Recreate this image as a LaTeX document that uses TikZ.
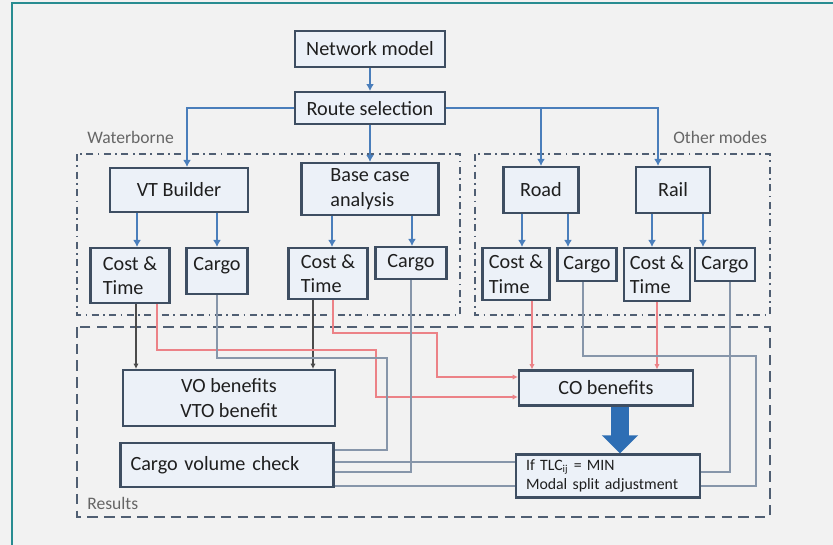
\documentclass[tikz,border=0pt]{standalone}
\usepackage{fontspec}
\setmainfont{Carlito}
\usepackage{tikz}
\usetikzlibrary{arrows.meta, positioning, calc}
\definecolor{boxLine}{RGB}{62, 78, 98}
\definecolor{boxFill}{RGB}{236, 241, 248}
\definecolor{linkBlue}{RGB}{74, 126, 187}
\definecolor{bigBlue}{RGB}{46, 110, 180}
\definecolor{linkRed}{RGB}{236, 130, 135}
\definecolor{linkGray}{RGB}{135, 150, 170}
\definecolor{linkDark}{RGB}{75, 75, 75}
\definecolor{frameTeal}{RGB}{40, 140, 145}
\definecolor{areaLine}{RGB}{80, 95, 115}
\definecolor{pageGray}{RGB}{242, 242, 242}

\begin{document}
\begin{tikzpicture}[x=0.02cm, y=-0.02cm,
    mbox/.style={rectangle, draw=boxLine, fill=boxFill, line width=1.2pt, inner sep=0pt, align=center, font=\fontsize{11.5}{14}\selectfont, text=black!88},
    lbl/.style={font=\fontsize{10}{12}\selectfont, text=black!60, anchor=west, inner sep=0pt},
    blink/.style={-{Latex[length=4pt,width=4.5pt]}, draw=linkBlue, line width=1.1pt},
    dlink/.style={-{Latex[length=3pt,width=3pt]}, draw=linkDark, line width=0.6pt},
    rlink/.style={-{Latex[length=3pt,width=3pt]}, draw=linkRed, line width=0.6pt},
    glink/.style={draw=linkGray, line width=0.6pt},
    bigarrow/.style={-{Triangle[width=0.7cm,length=0.36cm]}, draw=bigBlue, line width=0.36cm},
    area/.style={draw=areaLine, line width=1.1pt, dash pattern=on 4pt off 2.5pt on 1pt off 2.5pt},
    resarea/.style={draw=areaLine, line width=1.1pt, dash pattern=on 6pt off 3.5pt}
]
\useasboundingbox (0,0) rectangle (833,545);
\fill[pageGray] (0,0) rectangle (833,545);
\draw[frameTeal, line width=1.5pt] (833,3) -- (12,3) -- (12,545);

% --- Areas ---
\draw[area] (77,154) rectangle (460,315);
\draw[area] (475,154) rectangle (770,315);
\draw[resarea] (77,327) rectangle (770,517);
\node[lbl] (wblbl) at (87,137) {Waterborne};
\node[lbl] (othlbl) at (673,137) {Other modes};
\node[lbl] (reslbl) at (87,503) {Results};

% --- Network and route ---
\node[mbox, minimum width=3cm, minimum height=0.72cm] (net) at (370,49) {Network model};
\node[mbox, minimum width=3cm, minimum height=0.64cm, below=0.46cm of net] (route) {Route selection};

% --- Modes ---
\node[mbox, minimum width=2.76cm, minimum height=0.88cm] (vt) at (179,190) {VT Builder};
\node[mbox, minimum width=2.74cm, minimum height=1.04cm, align=left] (base) at (370,189) {Base case\\analysis};
\node[mbox, minimum width=1.5cm, minimum height=0.92cm] (road) at (541,190) {Road};
\node[mbox, minimum width=1.48cm, minimum height=0.92cm] (rail) at (673,190) {Rail};

\node[mbox, anchor=north, minimum width=1.58cm, minimum height=1.1cm, align=left] (vtcost) at (130,247) {Cost \&\\Time};
\node[mbox, anchor=north, minimum width=1.22cm, minimum height=0.92cm, text depth=0.3cm] (vtcargo) at (217,247) {Cargo};
\node[mbox, anchor=north, minimum width=1.58cm, minimum height=1.02cm, align=left] (bccost) at (328,247) {Cost \&\\Time};
\node[mbox, anchor=north, minimum width=1.42cm, minimum height=0.64cm] (bccargo) at (411,246) {Cargo};
\node[mbox, anchor=north, minimum width=1.34cm, minimum height=1.04cm, align=left] (rdcost) at (516,247) {Cost \&\\Time};
\node[mbox, anchor=north, minimum width=1.18cm, minimum height=0.66cm] (rdcargo) at (587,247) {Cargo};
\node[mbox, anchor=north, minimum width=1.32cm, minimum height=1.06cm, align=left] (rlcost) at (657,247) {Cost \&\\Time};
\node[mbox, anchor=north, minimum width=1.2cm, minimum height=0.66cm] (rlcargo) at (725,247) {Cargo};

% --- Results ---
\node[mbox, minimum width=4.24cm, minimum height=1.12cm] (vo) at (229,398) {VO benefits\\VTO benefit};
\node[mbox, minimum width=4.26cm, minimum height=0.88cm, text width=3.86cm, align=left] (cvc) at (227,465) {Cargo volume check};
\node[mbox, minimum width=3.48cm, minimum height=0.7cm] (co) at (606,388) {CO benefits};
\node[mbox, minimum width=3.68cm, minimum height=0.86cm, text width=3.28cm, align=left, font=\fontsize{9}{10.5}\selectfont] (ifb) at (608,476) {If TLC\textsubscript{ij} = MIN\\Modal split adjustment};

% --- Route links ---
\draw[blink] (net) -- (route);
\draw[blink] (route.west) -| ([xshift=0.16cm]vt.north);
\draw[blink] (route) -- (base);
\draw[blink] (route.east) -| ([xshift=-0.3cm]rail.north);
\draw[blink] (route.east -| road.north) -- (road.north);

\draw[blink] ([xshift=-0.84cm]vt.south) -- ([xshift=-0.84cm]vt.south |- vtcost.north);
\draw[blink] ([xshift=0.76cm]vt.south) -- ([xshift=0.76cm]vt.south |- vtcargo.north);
\draw[blink] ([xshift=-0.76cm]base.south) -- ([xshift=-0.76cm]base.south |- bccost.north);
\draw[blink] ([xshift=0.84cm]base.south) -- ([xshift=0.84cm]base.south |- bccargo.north);
\draw[blink] ([xshift=-0.38cm]road.south) -- ([xshift=-0.38cm]road.south |- rdcost.north);
\draw[blink] ([xshift=0.54cm]road.south) -- ([xshift=0.54cm]road.south |- rdcargo.north);
\draw[blink] ([xshift=-0.42cm]rail.south) -- ([xshift=-0.42cm]rail.south |- rlcost.north);
\draw[blink] ([xshift=0.6cm]rail.south) -- ([xshift=0.6cm]rail.south |- rlcargo.north);

% --- Result links ---
\draw[dlink] ([xshift=0.12cm]vtcost.south) -- ([xshift=0.12cm]vtcost.south |- vo.north);
\draw[dlink] ([xshift=-0.3cm]bccost.south) -- ([xshift=-0.3cm]bccost.south |- vo.north);
\draw[rlink] ([xshift=0.54cm]vtcost.south) |- (376,350) |- ([yshift=-0.18cm]co.west);
\draw[rlink] ([xshift=0.1cm]bccost.south) |- (437,333) |- ([yshift=0.22cm]co.west);
\draw[rlink] ([xshift=0.32cm]rdcost.south) -- ([xshift=0.32cm]rdcost.south |- co.north);
\draw[rlink] (rlcost.south) -- (rlcost.south |- co.north);
\draw[glink] (vtcargo.south) |- (387,358) |- ([yshift=0.3cm]cvc.east);
\draw[glink] (bccargo.south) |- ([yshift=-0.14cm]cvc.east);
\draw[glink] ([xshift=-0.08cm]rdcargo.south) |- (756,356) |- ([yshift=-0.2cm]ifb.east);
\draw[glink] ([xshift=0.1cm]rlcargo.south) |- ([yshift=0.08cm]ifb.east);
\draw[glink] ([yshift=0.28cm]ifb.west) -- ([yshift=0.28cm]ifb.west -| cvc.east);
\draw[glink] ([yshift=-0.2cm]ifb.west) -- ([yshift=-0.2cm]ifb.west -| cvc.east);
\draw[bigarrow] ([xshift=0.28cm]co.south) -- ([xshift=0.28cm]co.south |- ifb.north);
\end{tikzpicture}
\end{document}
